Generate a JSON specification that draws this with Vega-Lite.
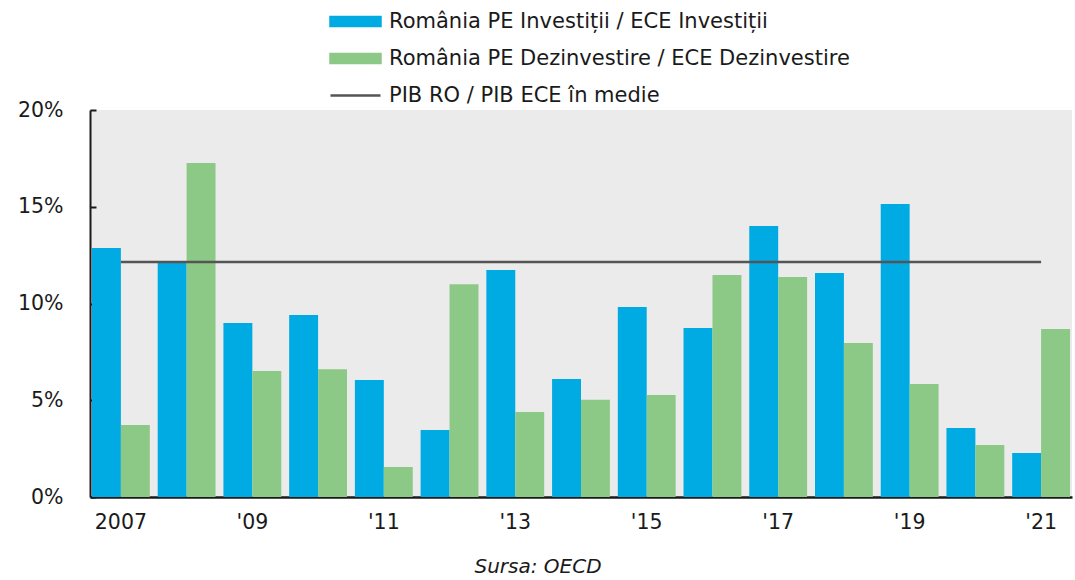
{
  "$schema": "https://vega.github.io/schema/vega-lite/v6.json",
  "width": 982,
  "height": 387,
  "autosize": "none",
  "padding": {"left": 90, "top": 110, "right": 3, "bottom": 83},
  "background": "white",
  "config": {
    "view": {"fill": "#ebebeb", "stroke": null},
    "font": "DejaVu Sans",
    "axis": {"labelFont": "DejaVu Sans", "labelFontSize": 20.5, "labelColor": "#1a1a1a", "grid": false}
  },
  "title": {"text": "Sursa: OECD", "orient": "bottom", "anchor": "middle", "dx": -43, "fontStyle": "italic", "fontWeight": "normal", "fontSize": 20, "font": "DejaVu Sans", "color": "#1a1a1a", "offset": 24},
  "datasets": {
    "bars": [
      {"year": "2007", "series": "România PE Investiții / ECE Investiții", "value": 12.87},
      {"year": "2007", "series": "România PE Dezinvestire / ECE Dezinvestire", "value": 3.72},
      {"year": "2008", "series": "România PE Investiții / ECE Investiții", "value": 12.14},
      {"year": "2008", "series": "România PE Dezinvestire / ECE Dezinvestire", "value": 17.26},
      {"year": "2009", "series": "România PE Investiții / ECE Investiții", "value": 8.99},
      {"year": "2009", "series": "România PE Dezinvestire / ECE Dezinvestire", "value": 6.51},
      {"year": "2010", "series": "România PE Investiții / ECE Investiții", "value": 9.41},
      {"year": "2010", "series": "România PE Dezinvestire / ECE Dezinvestire", "value": 6.6},
      {"year": "2011", "series": "România PE Investiții / ECE Investiții", "value": 6.05},
      {"year": "2011", "series": "România PE Dezinvestire / ECE Dezinvestire", "value": 1.55},
      {"year": "2012", "series": "România PE Investiții / ECE Investiții", "value": 3.46},
      {"year": "2012", "series": "România PE Dezinvestire / ECE Dezinvestire", "value": 11.0},
      {"year": "2013", "series": "România PE Investiții / ECE Investiții", "value": 11.73},
      {"year": "2013", "series": "România PE Dezinvestire / ECE Dezinvestire", "value": 4.39},
      {"year": "2014", "series": "România PE Investiții / ECE Investiții", "value": 6.1},
      {"year": "2014", "series": "România PE Dezinvestire / ECE Dezinvestire", "value": 5.03},
      {"year": "2015", "series": "România PE Investiții / ECE Investiții", "value": 9.82},
      {"year": "2015", "series": "România PE Dezinvestire / ECE Dezinvestire", "value": 5.27},
      {"year": "2016", "series": "România PE Investiții / ECE Investiții", "value": 8.73},
      {"year": "2016", "series": "România PE Dezinvestire / ECE Dezinvestire", "value": 11.47},
      {"year": "2017", "series": "România PE Investiții / ECE Investiții", "value": 14.0},
      {"year": "2017", "series": "România PE Dezinvestire / ECE Dezinvestire", "value": 11.37},
      {"year": "2018", "series": "România PE Investiții / ECE Investiții", "value": 11.58},
      {"year": "2018", "series": "România PE Dezinvestire / ECE Dezinvestire", "value": 7.96},
      {"year": "2019", "series": "România PE Investiții / ECE Investiții", "value": 15.14},
      {"year": "2019", "series": "România PE Dezinvestire / ECE Dezinvestire", "value": 5.84},
      {"year": "2020", "series": "România PE Investiții / ECE Investiții", "value": 3.57},
      {"year": "2020", "series": "România PE Dezinvestire / ECE Dezinvestire", "value": 2.69},
      {"year": "2021", "series": "România PE Investiții / ECE Investiții", "value": 2.27},
      {"year": "2021", "series": "România PE Dezinvestire / ECE Dezinvestire", "value": 8.68}
    ],
    "pib": [
      {"year": "2007", "series": "PIB RO / PIB ECE în medie", "value": 12.14},
      {"year": "2008", "series": "PIB RO / PIB ECE în medie", "value": 12.14},
      {"year": "2009", "series": "PIB RO / PIB ECE în medie", "value": 12.14},
      {"year": "2010", "series": "PIB RO / PIB ECE în medie", "value": 12.14},
      {"year": "2011", "series": "PIB RO / PIB ECE în medie", "value": 12.14},
      {"year": "2012", "series": "PIB RO / PIB ECE în medie", "value": 12.14},
      {"year": "2013", "series": "PIB RO / PIB ECE în medie", "value": 12.14},
      {"year": "2014", "series": "PIB RO / PIB ECE în medie", "value": 12.14},
      {"year": "2015", "series": "PIB RO / PIB ECE în medie", "value": 12.14},
      {"year": "2016", "series": "PIB RO / PIB ECE în medie", "value": 12.14},
      {"year": "2017", "series": "PIB RO / PIB ECE în medie", "value": 12.14},
      {"year": "2018", "series": "PIB RO / PIB ECE în medie", "value": 12.14},
      {"year": "2019", "series": "PIB RO / PIB ECE în medie", "value": 12.14},
      {"year": "2020", "series": "PIB RO / PIB ECE în medie", "value": 12.14},
      {"year": "2021", "series": "PIB RO / PIB ECE în medie", "value": 12.14}
    ]
  },
  "encoding": {
    "x": {
      "field": "year", "type": "ordinal",
      "scale": {"paddingInner": 0.12, "paddingOuter": 0.03},
      "axis": {
        "title": null, "labelAngle": 0, "ticks": false, "domainColor": "#1a1a1a", "domainWidth": 2.5,
        "labelPadding": 15,
        "labelExpr": "datum.value == '2007' ? '2007' : (toNumber(datum.value) % 2 == 1 ? \"'\" + substring(datum.value, 2) : '')"
      }
    },
    "y": {
      "field": "value", "type": "quantitative",
      "scale": {"domain": [0, 20], "nice": false},
      "axis": {
        "title": null, "values": [0, 5, 10, 15, 20], "labelExpr": "datum.value + '%'",
        "domainColor": "#1a1a1a", "domainWidth": 2, "ticks": true, "tickSize": -6, "tickColor": "#1a1a1a", "tickWidth": 2,
        "labelPadding": 33
      }
    },
    "color": {
      "field": "series", "type": "nominal",
      "scale": {
        "domain": ["România PE Investiții / ECE Investiții", "România PE Dezinvestire / ECE Dezinvestire", "PIB RO / PIB ECE în medie"],
        "range": ["#00aae3", "#8cc986", "#555555"]
      },
      "legend": {
        "title": null, "orient": "none", "legendX": 254, "legendY": -100, "direction": "vertical",
        "labelFont": "DejaVu Sans", "labelFontSize": 21, "labelColor": "#1a1a1a", "labelLimit": 700,
        "symbolSize": 400, "labelOffset": 22, "rowPadding": 15,
        "encode": {
          "symbols": {
            "update": {
              "shape": {"signal": "datum.value === 'PIB RO / PIB ECE în medie' ? 'M-2.5,0H2.5' : 'M-2.5,-0.45H2.5V0.45H-2.5Z'"},
              "fill": {"signal": "datum.value === 'PIB RO / PIB ECE în medie' ? 'transparent' : scale('color', datum.value)"},
              "stroke": {"signal": "datum.value === 'PIB RO / PIB ECE în medie' ? '#555555' : 'transparent'"},
              "strokeWidth": {"value": 2.5},
              "opacity": {"value": 1}
            }
          }
        }
      }
    }
  },
  "layer": [
    {
      "data": {"name": "bars"},
      "mark": {"type": "bar"},
      "encoding": {
        "xOffset": {"field": "series", "type": "nominal", "sort": ["România PE Investiții / ECE Investiții", "România PE Dezinvestire / ECE Dezinvestire"], "scale": {"paddingInner": 0, "paddingOuter": 0}}
      }
    },
    {
      "data": {"name": "pib"},
      "mark": {"type": "line", "strokeWidth": 2.5},
      "encoding": {}
    }
  ]
}
